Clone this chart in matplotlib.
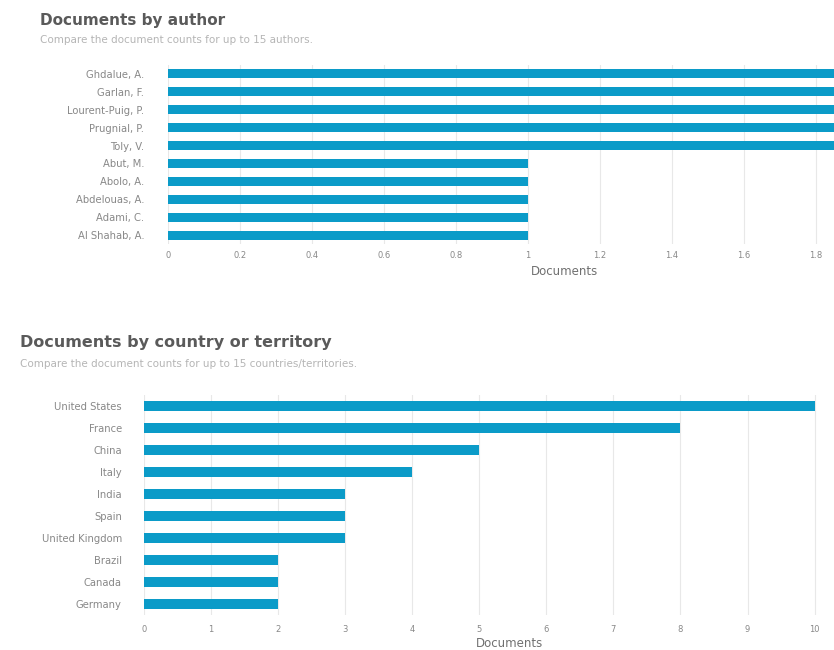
import matplotlib
matplotlib.use("Agg")
import matplotlib.pyplot as plt

plt.rcParams['font.family'] = ['DejaVu Sans']

authors = ["Ghdalue, A.", "Garlan, F.", "Lourent-Puig, P.", "Prugnial, P.", "Toly, V.",
           "Abut, M.", "Abolo, A.", "Abdelouas, A.", "Adami, C.", "Al Shahab, A."]
author_docs = [2, 2, 2, 2, 2, 1, 1, 1, 1, 1]
author_ticks = [0, 0.2, 0.4, 0.6, 0.8, 1, 1.2, 1.4, 1.6, 1.8]
author_ticklabels = ["0", "0.2", "0.4", "0.6", "0.8", "1", "1.2", "1.4", "1.6", "1.8"]

countries = ["United States", "France", "China", "Italy", "India", "Spain",
             "United Kingdom", "Brazil", "Canada", "Germany"]
country_docs = [10, 8, 5, 4, 3, 3, 3, 2, 2, 2]
country_ticks = list(range(0, 11))

BAR = "#0b9bc8"
GRID = "#e8e8e8"
TXT = "#888888"

W, H = 834, 650
fig = plt.figure(figsize=(W / 100, H / 100), dpi=100)


def style(ax):
    for s in ax.spines.values():
        s.set_visible(False)
    ax.tick_params(axis='y', length=0, labelsize=7.2, labelcolor=TXT)
    ax.tick_params(axis='x', length=0, labelsize=6, labelcolor=TXT)
    ax.grid(axis='x', color=GRID, linewidth=0.8)
    ax.set_axisbelow(True)


# Top chart
ax1 = fig.add_axes([168 / W, 1 - 244 / H, (W - 168) / W, (244 - 65) / H])
y1 = list(range(len(authors)))
ax1.barh(y1, author_docs, height=0.5, color=BAR)
ax1.set_yticks(y1)
ax1.set_yticklabels(authors)
ax1.set_ylim(len(authors) - 0.5, -0.5)
ax1.set_xlim(0, 1.85)
ax1.set_xticks(author_ticks)
ax1.set_xticklabels(author_ticklabels)
style(ax1)
ax1.tick_params(axis='y', pad=17)
ax1.tick_params(axis='x', pad=5)
ax1.set_xlabel("Documents", fontsize=8.5, color="#707070")
ax1.xaxis.set_label_coords(1.10 / 1.85, -0.12)

fig.text(40 / W, 1 - 20 / H, "Documents by author", fontsize=11, color="#5a5a5a",
         fontweight='bold', va='center', ha='left')
fig.text(40 / W, 1 - 40 / H, "Compare the document counts for up to 15 authors.",
         fontsize=7.5, color="#b5b5b5", va='center', ha='left')

# Bottom chart
xmax2 = 10.2
ax2 = fig.add_axes([144 / W, 1 - 615 / H, 684 / W, 220 / H])
y2 = list(range(len(countries)))
ax2.barh(y2, country_docs, height=0.48, color=BAR)
ax2.set_yticks(y2)
ax2.set_yticklabels(countries)
ax2.set_ylim(len(countries) - 0.5, -0.5)
ax2.set_xlim(0, xmax2)
ax2.set_xticks(country_ticks)
style(ax2)
ax2.tick_params(axis='y', pad=16)
ax2.tick_params(axis='x', pad=7)
ax2.set_xlabel("Documents", fontsize=8.5, color="#707070")
ax2.xaxis.set_label_coords(5.45 / xmax2, -0.1)

fig.text(20 / W, 1 - 342 / H, "Documents by country or territory", fontsize=11.5,
         color="#5a5a5a", fontweight='bold', va='center', ha='left')
fig.text(20 / W, 1 - 364 / H,
         "Compare the document counts for up to 15 countries/territories.",
         fontsize=7.5, color="#b5b5b5", va='center', ha='left')

fig.savefig("out.png", dpi=100)
